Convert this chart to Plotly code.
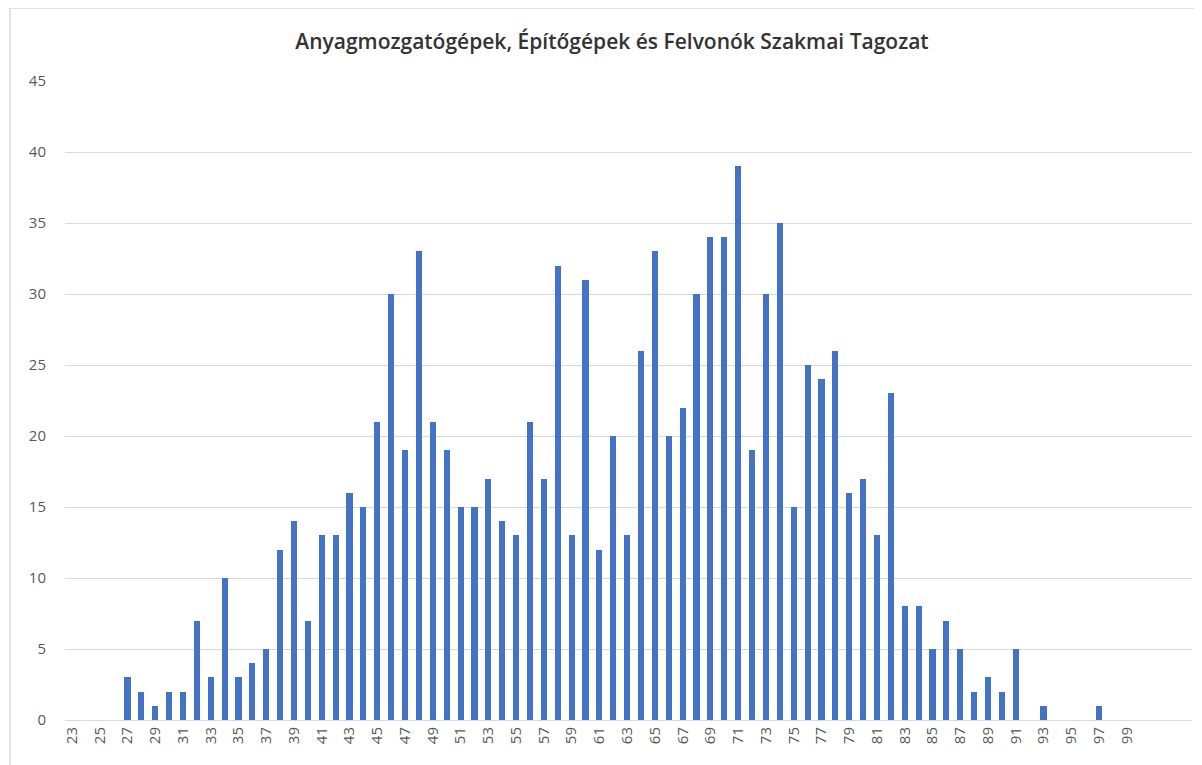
import plotly.graph_objects as go

title = "Anyagmozgatógépek, Építőgépek és Felvonók Szakmai Tagozat"
scores = list(range(23, 101))
counts = [0, 0, 0, 0, 3, 2, 1, 2, 2, 7, 3, 10, 3, 4, 5, 12, 14, 7, 13, 13,
          16, 15, 21, 30, 19, 33, 21, 19, 15, 15, 17, 14, 13, 21, 17, 32, 13, 31, 12, 20,
          13, 26, 33, 20, 22, 30, 34, 34, 39, 19, 30, 35, 15, 25, 24, 26, 16, 17, 13, 23,
          8, 8, 5, 7, 5, 2, 3, 2, 5, 0, 1, 0, 0, 0, 1, 0, 0, 0]
tick_labels = list(range(23, 101, 2))
y_ticks = list(range(0, 50, 5))

OFF = 8  # default page body margin
W, H = 1202 - OFF, 765 - OFF
L, T = 65 - OFF, 81 - OFF
pw, ph = 1127, 639
R = W - L - pw
B = H - T - ph
step = 13.88

fig = go.Figure(go.Bar(x=scores, y=counts, marker=dict(color="#4472C4", line=dict(width=0)),
                       width=0.44))

fig.update_layout(
    width=W, height=H,
    margin=dict(l=L, r=R, t=T, b=B),
    paper_bgcolor="white", plot_bgcolor="white",
    showlegend=False,
    title=dict(text=title, x=(612 - OFF) / W, xanchor="center", y=1 - (42 - OFF) / H,
               yanchor="middle",
               font=dict(family="Open Sans", size=21, color="#333333", weight=600)),
    xaxis=dict(range=[22.5, 22.5 + pw / step], tickmode="array", tickvals=tick_labels,
               ticktext=[str(v) for v in tick_labels], tickangle=-90,
               tickfont=dict(family="Open Sans", size=15, color="#595959"),
               showgrid=False, zeroline=False, showline=True, linecolor="#d9d9d9",
               linewidth=1, ticks=""),
    yaxis=dict(range=[0, 45], tickmode="array", tickvals=y_ticks,
               tickfont=dict(family="Open Sans", size=15, color="#595959"),
               showgrid=True, gridcolor="#d9d9d9", gridwidth=1, zeroline=False,
               ticks="", ticklabelstandoff=18),
    bargap=0,
)

fig.add_shape(type="rect", xref="paper", yref="paper",
              x0=(10 - 65) / pw, x1=(1230 - 65) / pw,
              y0=-(800 - 720) / ph, y1=(720 - 8) / ph,
              line=dict(color="#d9d9d9", width=1.5), fillcolor="rgba(0,0,0,0)", layer="below")

fig.write_html("out.html")
